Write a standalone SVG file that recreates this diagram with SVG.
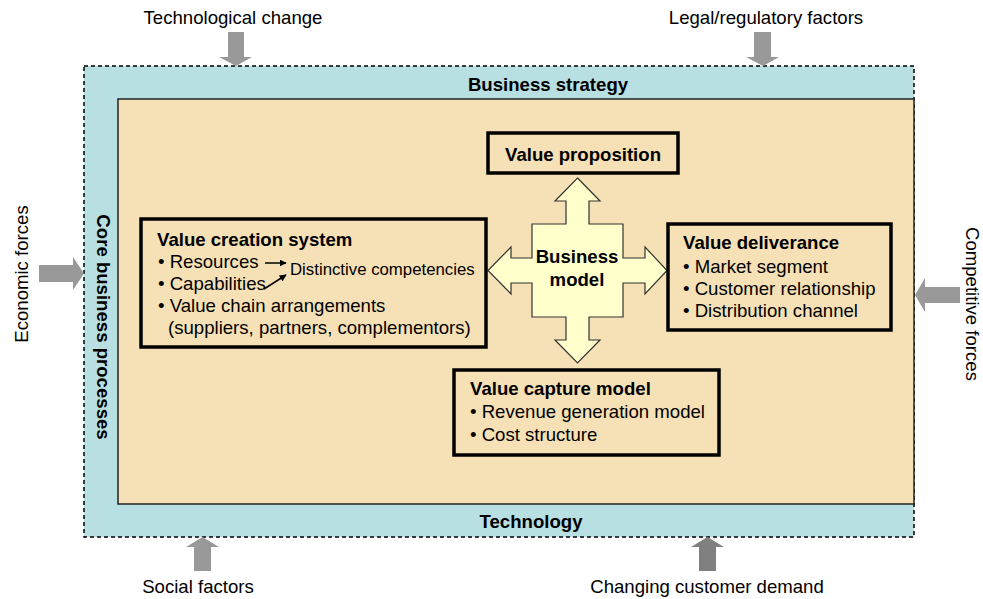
<svg xmlns="http://www.w3.org/2000/svg" width="983" height="599" viewBox="0 0 983 599">
<defs>
<marker id="ah" viewBox="0 0 10 10" refX="9" refY="5" markerWidth="7" markerHeight="7" markerUnits="userSpaceOnUse" orient="auto">
<path d="M0,0 L10,5 L0,10 z" fill="#000"/>
</marker>
</defs>
<style>
text{font-family:"Liberation Sans",Arial,Helvetica,sans-serif;fill:#000}
.lbl{font-size:18.6px}
.b{font-size:18.6px;font-weight:bold}
.r{font-size:18.6px}
.box{fill:none;stroke:#000;stroke-width:3.5}
.force{fill:#999999}
</style>
<rect x="84" y="66" width="830" height="471" fill="#B8DFE1" stroke="#000" stroke-width="1.5" stroke-dasharray="4,3"/>
<rect x="118" y="99" width="796" height="405" fill="#F6E0B5" stroke="#222" stroke-width="1.5"/>
<g id="strategy"><text class="b" x="548" y="91" text-anchor="middle">Business strategy</text></g>
<g id="technology"><text class="b" x="531" y="528" text-anchor="middle">Technology</text></g>
<g id="core"><text class="b" transform="translate(97,327) rotate(90)" text-anchor="middle">Core business processes</text></g>

<g id="forces">
<g id="tech-change"><text class="lbl" x="233" y="24" text-anchor="middle">Technological change</text>
<polygon class="force" points="228,32 244,32 244,57 252,57 236,66 219,57 228,57"/></g>
<g id="legal"><text class="lbl" x="766" y="24" text-anchor="middle">Legal/regulatory factors</text>
<polygon class="force" points="754,32 771,32 771,57 779,57 763,66 746,57 754,57"/></g>
<g id="economic"><text class="lbl" transform="translate(28,274) rotate(-90)" text-anchor="middle">Economic forces</text>
<polygon class="force" points="39,265 73,265 73,257 84,273.5 73,290 73,282 39,282"/></g>
<g id="competitive"><text class="lbl" transform="translate(966,304) rotate(90)" text-anchor="middle">Competitive forces</text>
<polygon class="force" points="960,287 925,287 925,278 915,295 925,312 925,303 960,303"/></g>
<g id="social"><text class="lbl" x="198" y="593" text-anchor="middle">Social factors</text>
<polygon class="force" points="194,571 211,571 211,547 219,547 202.5,537 186,547 194,547"/></g>
<g id="demand"><text class="lbl" x="707" y="593" text-anchor="middle">Changing customer demand</text>
<polygon fill="#808080" points="699,571 716,571 716,547 724,547 707.5,537 691,547 699,547"/></g>
</g>

<g id="business-model">
<polygon fill="#FFFFCC" stroke="#333" stroke-width="1.2" points="577.5,178 600,201 589,201 589,224 623,224 623,258 645,258 645,247 667,270.5 645,294 645,283 623,283 623,317 589,317 589,340 600,340 577.5,363 555,340 566,340 566,317 532,317 532,283 511,283 511,294 488,270.5 511,247 511,258 532,258 532,224 566,224 566,201 555,201"/>
<text class="b" x="577" y="263" text-anchor="middle">Business</text>
<text class="b" x="577" y="286" text-anchor="middle">model</text>
</g>

<g id="value-proposition">
<rect class="box" x="488" y="133" width="190" height="40"/>
<text class="b" x="583" y="161" text-anchor="middle">Value proposition</text>
</g>

<g id="value-creation">
<rect class="box" x="141" y="219" width="345" height="128"/>
<text class="b" x="157" y="246">Value creation system</text>
<text class="r" x="158" y="268">• Resources</text>
<text class="r" x="158" y="290">• Capabilities</text>
<text class="r" x="158" y="312">• Value chain arrangements</text>
<text class="r" x="168" y="334">(suppliers, partners, complementors)</text>
<text x="290" y="275" style="font-size:16.8px">Distinctive competencies</text>
</g>

<g id="value-deliverance">
<rect class="box" x="668" y="224" width="223" height="106"/>
<text class="b" x="683" y="249">Value deliverance</text>
<text class="r" x="683" y="273">• Market segment</text>
<text class="r" x="683" y="295">• Customer relationship</text>
<text class="r" x="683" y="317">• Distribution channel</text>
</g>

<g id="value-capture">
<rect class="box" x="454" y="370" width="265" height="85"/>
<text class="b" x="470" y="395">Value capture model</text>
<text class="r" x="470" y="418">• Revenue generation model</text>
<text class="r" x="470" y="441">• Cost structure</text>
</g>

<g id="connectors">
<line x1="265" y1="263" x2="286" y2="263" stroke="#000" stroke-width="1.5" marker-end="url(#ah)"/>
<line x1="264" y1="289" x2="286" y2="275" stroke="#000" stroke-width="1.5" marker-end="url(#ah)"/>
</g>
</svg>
